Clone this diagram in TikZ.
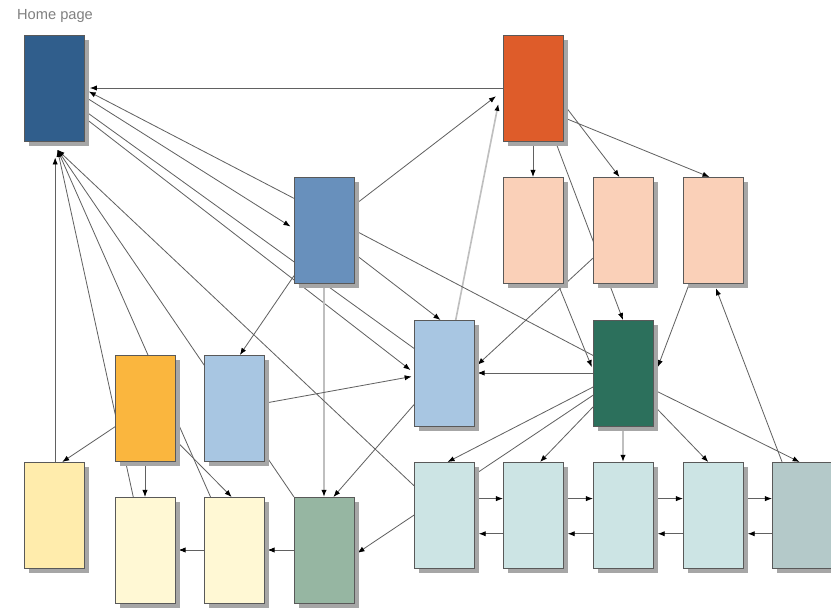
\documentclass[tikz,border=0pt]{standalone}
\usepackage{fontspec}
\setsansfont{Liberation Sans}
\usetikzlibrary{arrows.meta,shadows,backgrounds}
\definecolor{homeblue}{RGB}{48,94,140}
\definecolor{hotorange}{RGB}{222,92,42}
\definecolor{steelblue}{RGB}{104,144,188}
\definecolor{peach}{RGB}{250,208,184}
\definecolor{paleblue}{RGB}{168,198,226}
\definecolor{deepgreen}{RGB}{44,112,92}
\definecolor{amber}{RGB}{250,182,62}
\definecolor{lemon}{RGB}{255,236,172}
\definecolor{cream}{RGB}{255,248,212}
\definecolor{sage}{RGB}{150,182,162}
\definecolor{mist}{RGB}{204,228,228}

\begin{document}
\begin{tikzpicture}[x=0.03cm,y=-0.03cm,
    page_node/.style={rectangle,draw=black!65,line width=0.8pt,minimum width=1.8cm,minimum height=3.18cm,inner sep=0pt,outer sep=0pt,general shadow={fill=black!35,shadow xshift=4.5pt,shadow yshift=-4.5pt}},
    link/.style={draw=black!62,line width=0.7pt,-{Latex[length=6pt,width=4.5pt,color=black]}},
    plain_link/.style={draw=black!62,line width=0.7pt},
    pale_link/.style={draw=black!25,line width=1.4pt,-{Latex[length=6pt,width=4.5pt,color=black]}}]
    \useasboundingbox (0,0) rectangle (831,611);
    \node[text=black!50,font=\sffamily\fontsize{12.5}{14}\selectfont] (title) at (55,16) {Home page};
    \node[page_node,fill=homeblue] (home) at (54,88) {};
    \node[page_node,fill=hotorange] (top) at (533,88) {};
    \node[page_node,fill=steelblue] (sec) at (324,230) {};
    \node[page_node,fill=peach] (p1) at (533,230) {};
    \node[page_node,fill=peach] (p2) at (623,230) {};
    \node[page_node,fill=peach] (p3) at (713,230) {};
    \node[page_node,fill=paleblue] (mid) at (444,373) {};
    \node[page_node,fill=deepgreen] (hub) at (623,373) {};
    \node[page_node,fill=amber] (gold) at (145,408) {};
    \node[page_node,fill=paleblue] (side) at (234,408) {};
    \node[page_node,fill=lemon] (c1) at (54,515) {};
    \node[page_node,fill=cream] (c2) at (145,550) {};
    \node[page_node,fill=cream] (c3) at (234,550) {};
    \node[page_node,fill=sage] (end) at (324,550) {};
    \node[page_node,fill=mist] (t1) at (444,515) {};
    \node[page_node,fill=mist] (t2) at (533,515) {};
    \node[page_node,fill=mist] (t3) at (623,515) {};
    \node[page_node,fill=mist] (t4) at (713,515) {};
    \node[page_node,fill=mist!88!black] (t5) at (802,515) {};
    \begin{scope}[on background layer]
    \draw[link] (top.west) -- ([xshift=5pt]home.east);
    \draw[link] ([yshift=27pt]sec.west) -- ([xshift=4pt,yshift=-3pt]home.east);
    \draw[link] ([yshift=-7pt]home.east) -- ([xshift=-3pt,yshift=3pt]sec.west);
    \draw[plain_link] ([yshift=21pt]mid.west) -- ([yshift=-19pt]home.east);
    \draw[link] ([yshift=-25pt]home.east) -- ([xshift=-3pt,yshift=2.5pt]mid.west);
    \draw[link] ([yshift=21pt]sec.east) -- ([xshift=-6pt,yshift=-7pt]top.west);
    \draw[pale_link] ([xshift=10pt]mid.north) -- ([xshift=-4pt,yshift=-13.5pt]top.west);
    \draw[link] (top.south) -- (p1.north);
    \draw[link] ([yshift=-13pt]top.east) -- ([xshift=-3pt]p2.north);
    \draw[link] ([yshift=-25pt]top.east) -- ([xshift=-3pt]p3.north);
    \draw[link] ([xshift=19pt]top.south) -- (hub.north);
    \draw[link] ([yshift=-20pt]sec.east) -- ([xshift=-3pt]mid.north);
    \draw[plain_link] (sec.east) -- ([yshift=15pt]hub.west);
    \draw[link] ([yshift=-39pt]sec.west) -- ([xshift=5pt]side.north);
    \draw[pale_link] (sec.south) -- (end.north);
    \draw[link] ([xshift=21pt]p1.south) -- ([xshift=-1pt,yshift=5pt]hub.west);
    \draw[link] ([yshift=-24pt]p2.west) -- ([xshift=3pt,yshift=7pt]mid.east);
    \draw[link] ([xshift=-20pt]p3.south) -- ([xshift=4pt,yshift=5pt]hub.east);
    \draw[link] (hub.west) -- ([xshift=3pt]mid.east);
    \draw[link] ([yshift=-12pt]hub.west) -- ([xshift=3pt]t1.north);
    \draw[link] ([yshift=-19pt]hub.west) -- ([xshift=3pt,yshift=-2.5pt]end.east);
    \draw[link] ([yshift=-29pt]hub.west) -- ([xshift=6pt]t2.north);
    \draw[pale_link] (hub.south) -- (t3.north);
    \draw[link] ([yshift=-27pt]hub.east) -- ([xshift=-4pt]t4.north);
    \draw[link] ([yshift=-14pt]hub.east) -- ([xshift=-2pt]t5.north);
    \draw[link] ([xshift=-17pt]t5.north) -- ([xshift=2.5pt,yshift=-4.5pt]p3.south);
    \foreach \a/\b in {t1/t2,t2/t3,t3/t4,t4/t5} {
        \draw[link] ([xshift=4pt,yshift=14pt]\a.east) -- ([yshift=14pt]\b.west);
        \draw[link] ([yshift=-16pt]\b.west) -- ([xshift=4pt,yshift=-16pt]\a.east);
    }
    \draw[link] ([yshift=-27pt]mid.west) -- ([xshift=8pt]end.north);
    \draw[link] ([yshift=4pt]side.east) -- ([xshift=-2pt,yshift=-3pt]mid.west);
    \draw[link] ([xshift=1pt]c1.north) -- ([xshift=1pt,yshift=-14pt]home.south);
    \draw[link] ([xshift=-10pt]c2.north) -- ([xshift=3pt,yshift=-7.5pt]home.south);
    \draw[link] ([xshift=-20pt]c3.north) -- ([xshift=3pt,yshift=-7.5pt]home.south);
    \draw[link] (end.north west) -- ([xshift=3pt,yshift=-7.5pt]home.south);
    \draw[link] ([yshift=25pt]t1.west) -- ([xshift=3pt,yshift=-7.5pt]home.south);
    \draw[link] ([yshift=-16pt]gold.west) -- ([xshift=7pt]c1.north);
    \draw[link] (gold.south) -- (c2.north);
    \draw[link] ([yshift=-27pt]gold.east) -- ([xshift=-2pt]c3.north);
    \draw[link] (end.west) -- ([xshift=3pt]c3.east);
    \draw[link] (c3.west) -- ([xshift=3pt]c2.east);
    \end{scope}
\end{tikzpicture}
\end{document}
